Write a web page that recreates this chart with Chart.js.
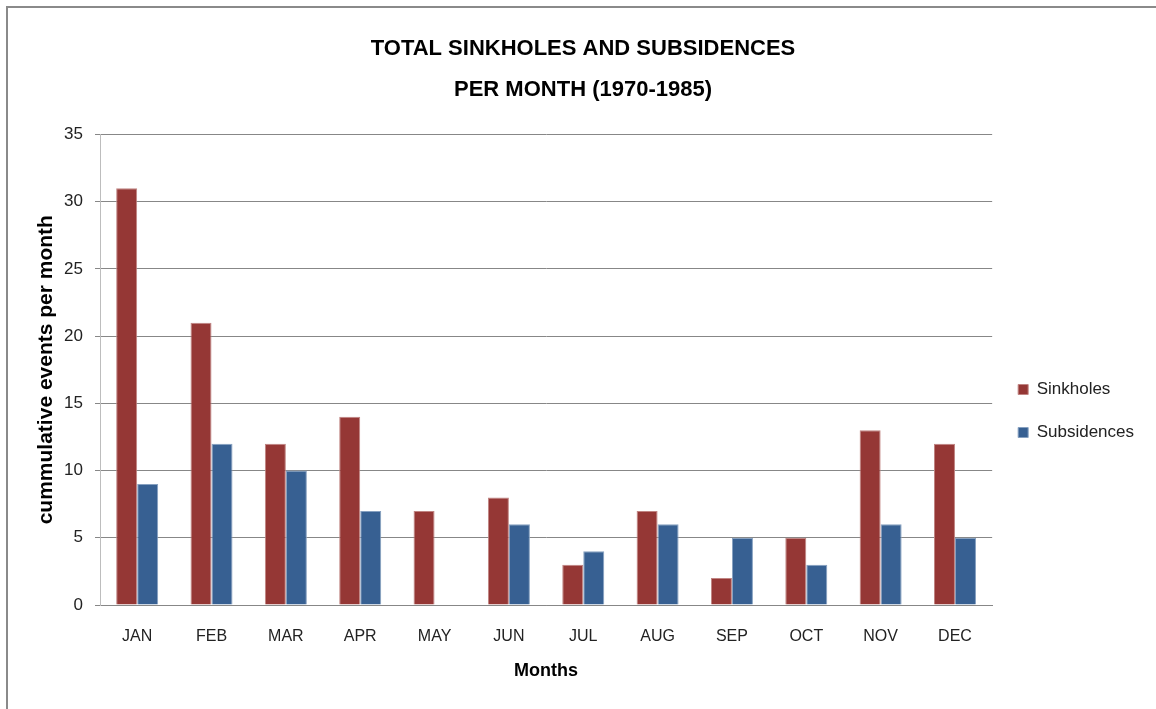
<!DOCTYPE html>
<html lang="en">
<head>
    <meta charset="UTF-8">
    <title>Total Sinkholes and Subsidences per Month</title>
    <script src="https://cdn.jsdelivr.net/npm/chart.js"></script>
    <style>
        html, body { margin: 0; padding: 0; background: #fff; overflow: hidden; }
        /* grey frame round the chart, running off the right and bottom edges */
        .frame {
            position: absolute;
            left: 6px;
            top: 6px;
            width: 1152px;
            height: 701px;
            border: 2px solid #8a8a8a;
            background: #fff;
        }
        .frame canvas { display: block; }
    </style>
</head>
<body>
    <div class="frame">
        <canvas id="sinkholeChart" width="1152" height="701"></canvas>
    </div>

    <script>
        // Monthly counts, 1970-1985
        const months = ['JAN', 'FEB', 'MAR', 'APR', 'MAY', 'JUN', 'JUL', 'AUG', 'SEP', 'OCT', 'NOV', 'DEC'];
        const sinkholes = [31, 21, 12, 14, 7, 8, 3, 7, 2, 5, 13, 12];
        const subsidences = [9, 12, 10, 7, 0, 6, 4, 6, 5, 3, 6, 5];

        const face = "'Liberation Sans', Arial, sans-serif";
        const gridGrey = '#878787';

        const ctx = document.getElementById('sinkholeChart').getContext('2d');
        new Chart(ctx, {
            type: 'bar',
            data: {
                labels: months,
                datasets: [
                    {
                        label: 'Sinkholes',
                        data: sinkholes,
                        backgroundColor: '#953735',
                        borderColor: '#c08482',
                        borderWidth: 1
                    },
                    {
                        label: 'Subsidences',
                        data: subsidences,
                        backgroundColor: '#376092',
                        borderColor: '#86a0c0',
                        borderWidth: 1
                    }
                ]
            },
            options: {
                responsive: false,
                animation: false,
                layout: { padding: { left: 14, right: 16, top: 0, bottom: 0 } },
                datasets: {
                    bar: { categoryPercentage: 0.565, barPercentage: 1.0 }
                },
                plugins: {
                    tooltip: { enabled: false },
                    title: {
                        display: true,
                        text: ['TOTAL SINKHOLES AND SUBSIDENCES', 'PER MONTH (1970-1985)'],
                        color: '#000',
                        font: { family: face, size: 22, weight: 'bold', lineHeight: 1.85 },
                        padding: { top: 21, bottom: 24 }
                    },
                    legend: {
                        position: 'right',
                        align: 'center',
                        // blank title only used to push the two entries down a little
                        title: {
                            display: true,
                            text: ' ',
                            font: { size: 10, lineHeight: 1.2 },
                            padding: { top: 47, bottom: 46 }
                        },
                        labels: {
                            boxWidth: 10,
                            boxHeight: 10,
                            padding: 26,
                            color: '#222',
                            font: { family: face, size: 17 }
                        }
                    }
                },
                scales: {
                    x: {
                        afterFit: (scale) => { scale.height = 104; },
                        grid: { display: false },
                        border: { display: true, color: gridGrey, width: 1 },
                        ticks: {
                            color: '#222',
                            padding: 14,
                            font: { family: face, size: 16 }
                        },
                        title: {
                            display: true,
                            text: 'Months',
                            color: '#000',
                            font: { family: face, size: 18, weight: 'bold', lineHeight: 1.2 },
                            padding: { top: 0, bottom: 27 }
                        }
                    },
                    y: {
                        min: 0,
                        max: 35,
                        afterFit: (scale) => { scale.width = 78; },
                        ticks: {
                            stepSize: 5,
                            color: '#222',
                            padding: 12,
                            font: { family: face, size: 17 }
                        },
                        grid: {
                            color: gridGrey,
                            lineWidth: 1,
                            drawTicks: true,
                            tickLength: 5,
                            tickColor: gridGrey
                        },
                        border: { display: true, color: '#bdbdbd', width: 1 },
                        title: {
                            display: true,
                            text: 'cummulative events per month',
                            color: '#000',
                            font: { family: face, size: 21, weight: 'bold', lineHeight: 1.2 },
                            padding: { top: 12, bottom: 0 }
                        }
                    }
                }
            }
        });
    </script>
</body>
</html>
